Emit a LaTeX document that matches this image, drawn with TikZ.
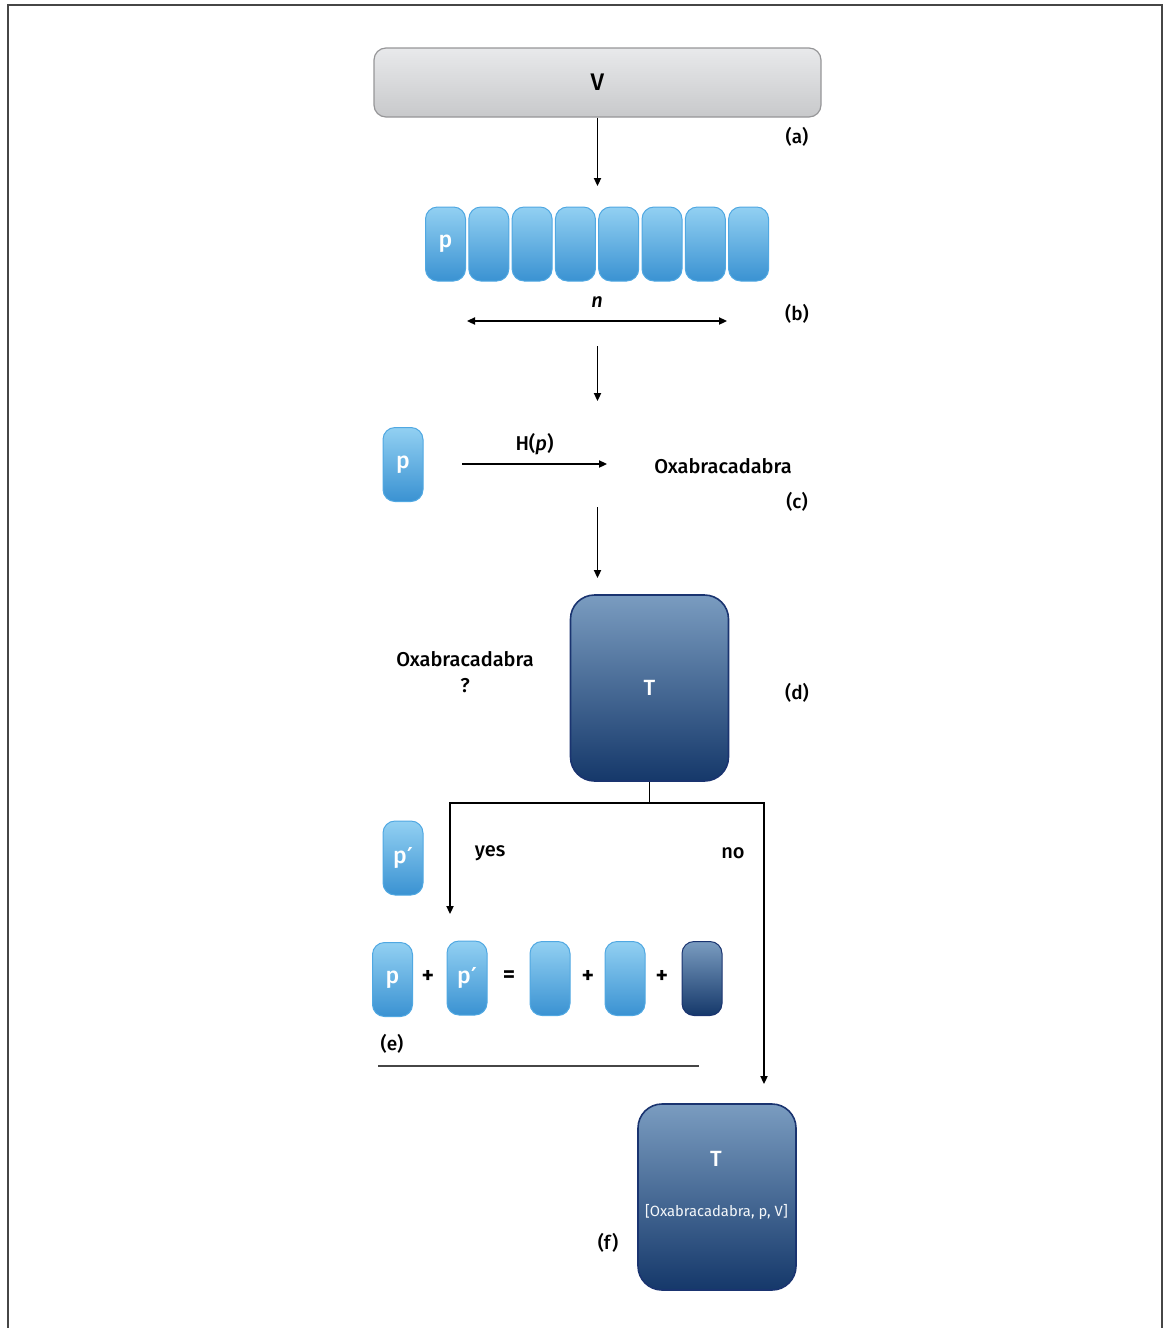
\documentclass[tikz,border=0pt]{standalone}
\usepackage{fontspec}
\setmainfont{Fira Sans}[UprightFont={* Medium}, BoldFont={* SemiBold}]
\newfontfamily\primefont{DejaVu Sans}
\newfontfamily\regfont{Fira Sans}
\newcommand\pprime{p\kern0.2pt{\primefont\bfseries\fontsize{11}{13}\selectfont′}}
\usetikzlibrary{arrows.meta}
\usetikzlibrary{positioning}

\definecolor{pilltop}{RGB}{146,208,242}
\definecolor{pillmid}{RGB}{84,166,224}
\definecolor{pillbot}{RGB}{58,146,210}
\definecolor{pillline}{RGB}{80,168,226}
\definecolor{darktop}{RGB}{122,156,192}
\definecolor{darkmid}{RGB}{36,72,122}
\definecolor{darkbot}{RGB}{21,56,106}
\definecolor{darkline}{RGB}{26,52,112}
\definecolor{greytop}{RGB}{232,233,235}
\definecolor{greybot}{RGB}{200,201,203}
\definecolor{greyline}{RGB}{150,150,152}
\definecolor{framecol}{RGB}{70,70,70}

\tikzset{
  pill/.style={rounded corners=6pt, minimum width=20pt, minimum height=37pt, inner sep=0pt,
    draw=pillline, line width=0.5pt, top color=pilltop, middle color=pillmid, bottom color=pillbot,
    text=white, font=\fontsize{11.5}{13}\selectfont},
  darkpill/.style={pill, draw=darkline, top color=darktop, middle color=darkmid, bottom color=darkbot},
  tbox/.style={rounded corners=12pt, minimum width=79pt, minimum height=93pt, inner sep=0pt,
    draw=darkline, line width=0.8pt, top color=darktop, middle color=darkmid, bottom color=darkbot,
    text=white, font=\fontsize{11}{13}\selectfont},
  vbox/.style={rounded corners=6pt, minimum width=223.5pt, minimum height=34.5pt, inner sep=0pt,
    draw=greyline, line width=0.6pt, top color=greytop, bottom color=greybot,
    font=\fontsize{12}{14}\selectfont},
  tag/.style={font=\fontsize{9.5}{11}\selectfont, inner sep=0pt},
  word/.style={font=\fontsize{10}{13}\selectfont, inner sep=0pt},
  small/.style={font=\regfont\fontsize{7.4}{9}\selectfont, text=white!92!darktop, inner sep=0pt},
  op/.style={font=\bfseries\fontsize{12}{13}\selectfont, inner sep=0pt},
  arr/.style={line width=0.75pt, -{Triangle[length=4pt,width=3.6pt]}},
  dblarr/.style={line width=0.75pt, {Triangle[length=4pt,width=3.6pt]}-{Triangle[length=4pt,width=3.6pt]}},
  link/.style={line width=0.75pt},
  rule/.style={line width=0.75pt, draw=framecol}
}

\begin{document}
\begin{tikzpicture}[x=0.5pt,y=-0.5pt]
\useasboundingbox (0,0) rectangle (1168,1328);
\draw[framecol,line width=1pt] (7.5,1328) -- (7.5,4.5) -- (1162,4.5) -- (1162,1328);

% (a)
\node[vbox] (V) at (597.5,82.5) {V};
\node[tag] (la) at (797,137) {(a)};
\coordinate (a1) at (597.5,186);
\draw[arr] (V) -- (a1);

% (b)
\foreach \i in {0,...,7}
  \node[pill] (pb\i) at ({445.5+43.3*\i},244) {\ifnum\i=0 p\fi};
\node[word,font=\itshape\fontsize{10}{12}\selectfont] (n) at (597,302) {n};
\coordinate (nl) at (467,321);
\coordinate (nr) at (727,321);
\draw[dblarr] (nl) -- (nr);
\node[tag] (lb) at (797,314) {(b)};
\coordinate (b1) at (597.5,346);
\coordinate (b2) at (597.5,401);
\draw[arr] (b1) -- (b2);

% (c)
\node[pill] (pc) at (403,464.5) {p};
\coordinate (h1) at (462,464);
\coordinate (h2) at (607,464);
\draw[arr] (h1) -- node[word,above=4pt] (hp) {H(\textit{p})} (h2);
\node[word] (oxc) at (723,466) {Oxabracadabra};
\node[tag] (lc) at (797,502) {(c)};
\coordinate (c1) at (597.5,507);
\coordinate (c2) at (597.5,578);
\draw[arr] (c1) -- (c2);

% (d)
\node[tbox] (Td) at (649.5,688) {T};
\node[word,align=center] (oxd) at (465,672) {Oxabracadabra\\?};
\node[tag] (ld) at (797,693) {(d)};
\coordinate (split) at (649.5,803);
\coordinate (yes1) at (450,914);
\coordinate (no1) at (764,1084);
\draw[link] (Td) -- (split);
\draw[arr] (split) -| (yes1);
\draw[arr] (split) -| (no1);
\node[pill] (pq) at (403,858) {\pprime};
\node[word] (yes) at (490,853) {yes};
\node[word] (no) at (733,853) {no};

% (e)
\node[pill] (e1) at (392.5,979.5) {p};
\node[op] (o1) at (428,977) {+};
\node[pill] (e2) at (467,978) {\pprime};
\node[op] (o2) at (509,977) {=};
\node[pill] (e3) at (550,978.5) {};
\node[op] (o3) at (588,977) {+};
\node[pill] (e4) at (625,978.5) {};
\node[op] (o4) at (662,977) {+};
\node[darkpill] (e5) at (702,978.5) {};
\node[tag] (le) at (392,1044) {(e)};
\coordinate (r1) at (378,1066);
\coordinate (r2) at (699,1066);
\draw[rule] (r1) -- (r2);

% (f)
\node[tbox] (Tf) at (717,1197) {};
\node[word,text=white,font=\fontsize{11}{13}\selectfont] (tf) at (716,1159) {T};
\node[small] (tfl) at (716.5,1212) {[Oxabracadabra, p, V]};
\node[tag] (lf) at (608,1243) {(f)};
\end{tikzpicture}
\end{document}
